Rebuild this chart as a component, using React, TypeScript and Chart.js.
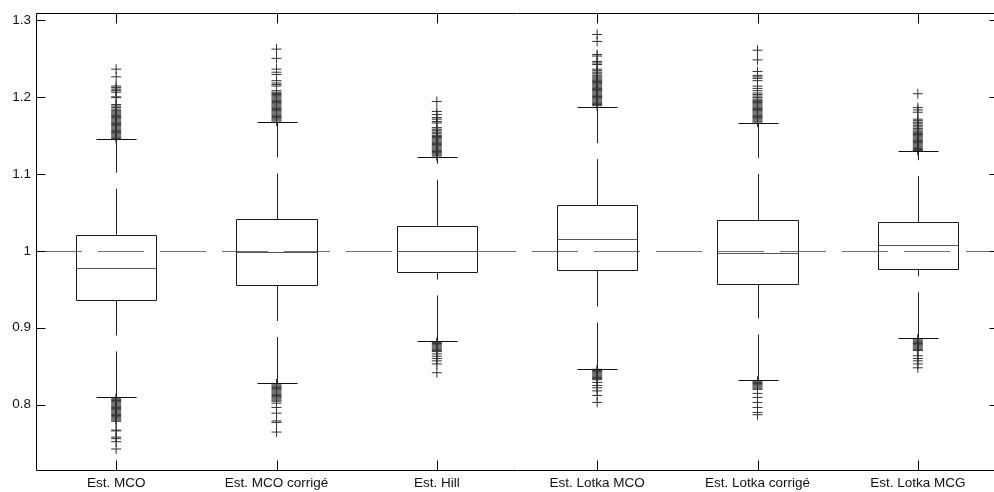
import React, { useEffect, useRef } from 'react';
import { Chart, registerables } from 'chart.js';

Chart.register(...registerables);

const CATEGORIES = ['Est. MCO', 'Est. MCO corrigé', 'Est. Hill', 'Est. Lotka MCO', 'Est. Lotka corrigé', 'Est. Lotka MCG'];

const Q1 = [0.936, 0.9555, 0.9719, 0.975, 0.9567, 0.9766];
const Q3 = [1.0208, 1.0407, 1.0325, 1.0593, 1.0402, 1.0372];
const MEDIAN = [0.978, 0.9987, 1.0, 1.0152, 0.997, 1.0074];
const WHISKER_LOW = [0.8095, 0.8282, 0.8822, 0.847, 0.8316, 0.8863];
const WHISKER_HIGH = [1.145, 1.1675, 1.122, 1.187, 1.1658, 1.129];

const OUT_MCO = [
  1.146, 1.1475, 1.149, 1.1505, 1.152, 1.1535, 1.155, 1.1565, 1.158, 1.1595, 1.161, 1.1625, 1.164,
  1.1655, 1.167, 1.1685, 1.17, 1.1715, 1.173, 1.1745, 1.176, 1.1775, 1.179, 1.1805, 1.182, 1.184,
  1.186, 1.188, 1.19, 1.199, 1.2, 1.206, 1.208, 1.21, 1.212, 1.214, 1.226, 1.236,
  0.8085, 0.807, 0.8055, 0.804, 0.8025, 0.801, 0.7995, 0.798, 0.7965, 0.795, 0.7935, 0.792, 0.7905,
  0.789, 0.7875, 0.786, 0.7845, 0.783, 0.7815, 0.78, 0.7785, 0.767, 0.766, 0.758, 0.756, 0.752, 0.7425,
];
const OUT_MCO_CORR = [
  1.1685, 1.17, 1.1715, 1.173, 1.1745, 1.176, 1.1775, 1.179, 1.1805, 1.182, 1.1835, 1.185, 1.1865,
  1.188, 1.1895, 1.191, 1.1925, 1.194, 1.1955, 1.197, 1.1985, 1.2, 1.2015, 1.203, 1.2045, 1.206,
  1.208, 1.214, 1.216, 1.218, 1.221, 1.229, 1.232, 1.236, 1.25, 1.262,
  0.827, 0.8255, 0.824, 0.8225, 0.821, 0.8195, 0.818, 0.8165, 0.815, 0.8135, 0.812, 0.8105, 0.809,
  0.8075, 0.806, 0.8045, 0.802, 0.7965, 0.789, 0.779, 0.777, 0.7645,
];
const OUT_HILL = [
  1.1232, 1.1245, 1.126, 1.1275, 1.129, 1.1305, 1.132, 1.1335, 1.135, 1.1365, 1.138, 1.1395, 1.141,
  1.1425, 1.144, 1.1455, 1.147, 1.1485, 1.15, 1.152, 1.154, 1.156, 1.158, 1.16, 1.166, 1.168, 1.171,
  1.173, 1.177, 1.181, 1.194,
  0.881, 0.8795, 0.878, 0.8765, 0.875, 0.8735, 0.872, 0.8705, 0.869, 0.866, 0.863, 0.86, 0.857,
  0.853, 0.8416,
];
const OUT_LOTKA_MCO = [
  1.1885, 1.19, 1.1915, 1.193, 1.1945, 1.196, 1.1975, 1.199, 1.2005, 1.202, 1.2035, 1.205, 1.2065,
  1.208, 1.2095, 1.211, 1.2125, 1.214, 1.2155, 1.217, 1.2185, 1.22, 1.2215, 1.223, 1.2245, 1.226,
  1.228, 1.23, 1.232, 1.234, 1.236, 1.242, 1.244, 1.246, 1.253, 1.255, 1.272, 1.281,
  0.846, 0.8445, 0.843, 0.8415, 0.84, 0.8385, 0.837, 0.8355, 0.834, 0.8325, 0.829, 0.825, 0.822,
  0.818, 0.812, 0.803,
];
const OUT_LOTKA_CORR = [
  1.1672, 1.1685, 1.17, 1.1715, 1.173, 1.1745, 1.176, 1.1775, 1.179, 1.1805, 1.182, 1.1835, 1.185,
  1.1865, 1.188, 1.1895, 1.191, 1.1925, 1.194, 1.1955, 1.197, 1.199, 1.201, 1.203, 1.205, 1.208,
  1.211, 1.214, 1.221, 1.224, 1.226, 1.228, 1.233, 1.248, 1.2606,
  0.8305, 0.829, 0.8275, 0.826, 0.8245, 0.823, 0.8215, 0.82, 0.8147, 0.8095, 0.803, 0.7965, 0.79, 0.787,
];
const OUT_LOTKA_MCG = [
  1.1302, 1.1315, 1.133, 1.1345, 1.136, 1.1375, 1.139, 1.1405, 1.142, 1.1435, 1.145, 1.1465, 1.148,
  1.1495, 1.151, 1.1525, 1.154, 1.1555, 1.157, 1.159, 1.161, 1.163, 1.165, 1.167, 1.169, 1.171,
  1.18, 1.183, 1.186, 1.204,
  0.8855, 0.884, 0.8825, 0.881, 0.8795, 0.878, 0.8765, 0.875, 0.8735, 0.872, 0.8705, 0.8636, 0.86,
  0.857, 0.853, 0.848,
];
const OUTLIERS = [OUT_MCO, OUT_MCO_CORR, OUT_HILL, OUT_LOTKA_MCO, OUT_LOTKA_CORR, OUT_LOTKA_MCG];

const Y_MIN = 0.7152;
const Y_MAX = 1.3088;
const Y_TICKS = [0.8, 0.9, 1.0, 1.1, 1.2, 1.3];
const Y_TICK_LABELS = ['0.8', '0.9', '1', '1.1', '1.2', '1.3'];
const REFERENCE = 1;

const FONT = '"Liberation Sans", Arial, Helvetica, sans-serif';

const crisp = (v: number) => Math.round(v) + 0.5;

const boxPlotPlugin = {
  id: 'matlabBoxplot',
  beforeDatasetsDraw(chart: any) {
    const { ctx, chartArea, scales } = chart;
    const y = crisp(scales.y.getPixelForValue(REFERENCE));
    ctx.save();
    ctx.strokeStyle = '#6e6e6e';
    ctx.lineWidth = 1;
    ctx.setLineDash([46, 16]);
    ctx.beginPath();
    ctx.moveTo(chartArea.left, y);
    ctx.lineTo(chartArea.right, y);
    ctx.stroke();
    ctx.restore();
  },
  afterDatasetsDraw(chart: any) {
    const { ctx, chartArea, scales } = chart;
    const xs = scales.x;
    const ys = scales.y;
    const meta = chart.getDatasetMeta(0);
    ctx.save();
    ctx.lineWidth = 1;
    CATEGORIES.forEach((_, i) => {
      const bar = meta.data[i];
      const cx = crisp(bar.x);
      const half = bar.width / 2;
      const capHalf = half / 2;
      const yLow = ys.getPixelForValue(WHISKER_LOW[i]);
      const yHigh = ys.getPixelForValue(WHISKER_HIGH[i]);
      const yQ1 = ys.getPixelForValue(Q1[i]);
      const yQ3 = ys.getPixelForValue(Q3[i]);
      const yMed = crisp(ys.getPixelForValue(MEDIAN[i]));
      // box outline
      const bl = crisp(bar.x - half);
      const br = crisp(bar.x + half);
      const bt = crisp(Math.min(bar.y, bar.base));
      const bb = crisp(Math.max(bar.y, bar.base));
      ctx.strokeStyle = '#1a1a1a';
      ctx.setLineDash([]);
      ctx.beginPath();
      ctx.rect(bl, bt, br - bl, bb - bt);
      ctx.stroke();
      // whiskers (dashed)
      ctx.strokeStyle = '#222';
      ctx.setLineDash([46, 16]);
      ctx.beginPath();
      ctx.moveTo(cx, yLow);
      ctx.lineTo(cx, yQ1);
      ctx.stroke();
      ctx.beginPath();
      ctx.moveTo(cx, yQ3);
      ctx.lineTo(cx, yHigh);
      ctx.stroke();
      ctx.setLineDash([]);
      // caps
      ctx.strokeStyle = '#111';
      ctx.beginPath();
      ctx.moveTo(cx - capHalf, crisp(yLow));
      ctx.lineTo(cx + capHalf, crisp(yLow));
      ctx.moveTo(cx - capHalf, crisp(yHigh));
      ctx.lineTo(cx + capHalf, crisp(yHigh));
      ctx.stroke();
      // median
      ctx.strokeStyle = '#555';
      ctx.beginPath();
      ctx.moveTo(bl, yMed);
      ctx.lineTo(br, yMed);
      ctx.stroke();
    });
    // frame
    const L = crisp(chartArea.left);
    const R = crisp(chartArea.right);
    const T = crisp(chartArea.top);
    const B = crisp(chartArea.bottom);
    ctx.strokeStyle = '#000';
    ctx.beginPath();
    ctx.rect(L, T, R - L, B - T);
    ctx.stroke();
    // ticks
    ctx.beginPath();
    Y_TICKS.forEach((v) => {
      const ty = crisp(ys.getPixelForValue(v));
      ctx.moveTo(L, ty);
      ctx.lineTo(L + 9, ty);
      ctx.moveTo(R, ty);
      ctx.lineTo(R - 9, ty);
    });
    CATEGORIES.forEach((_, i) => {
      const tx = crisp(xs.getPixelForValue(i));
      ctx.moveTo(tx, B);
      ctx.lineTo(tx, B - 10);
      ctx.moveTo(tx, T);
      ctx.lineTo(tx, T + 10);
    });
    ctx.stroke();
    ctx.restore();
  },
};

export default function App() {
  const canvasRef = useRef<HTMLCanvasElement | null>(null);

  useEffect(() => {
    const canvas = canvasRef.current;
    if (!canvas) return;
    const datasets: any[] = [
      {
        type: 'bar',
        data: Q1.map((q, i) => [q, Q3[i]]),
        backgroundColor: 'rgba(0,0,0,0)',
        borderColor: 'rgba(0,0,0,0)',
        borderWidth: 0,
        borderSkipped: false,
        barPercentage: 0.5,
        categoryPercentage: 1,
        order: 2,
      },
      ...OUTLIERS.map((vals, i) => ({
        type: 'scatter',
        data: vals.map((v) => ({ x: CATEGORIES[i], y: v })),
        pointStyle: 'cross',
        pointRadius: 5,
        pointBorderWidth: 1,
        pointBorderColor: '#333',
        pointBackgroundColor: 'rgba(0,0,0,0)',
        showLine: false,
        order: 1,
      })),
    ];
    const chart = new Chart(canvas, {
      type: 'bar',
      data: { labels: CATEGORIES, datasets },
      options: {
        animation: false,
        responsive: false,
        devicePixelRatio: 1,
        events: [],
        layout: { padding: { top: 12, right: 4, bottom: 0, left: 0 } },
        plugins: { legend: { display: false }, tooltip: { enabled: false } },
        scales: {
          x: {
            type: 'category',
            offset: true,
            grid: { display: false, drawTicks: false },
            border: { display: false },
            ticks: {
              autoSkip: false,
              maxRotation: 0,
              minRotation: 0,
              padding: 5,
              color: '#111',
              font: { family: FONT, size: 13.5 },
            },
            afterFit: (s: any) => {
              s.height = 22;
            },
          },
          y: {
            type: 'linear',
            min: Y_MIN,
            max: Y_MAX,
            grid: { display: false, drawTicks: false },
            border: { display: false },
            afterBuildTicks: (s: any) => {
              s.ticks = Y_TICKS.map((v) => ({ value: v }));
            },
            ticks: {
              padding: 5,
              color: '#111',
              font: { family: FONT, size: 13.5 },
              callback: (v: any) => {
                const idx = Y_TICKS.findIndex((t) => Math.abs(t - Number(v)) < 1e-9);
                return idx >= 0 ? Y_TICK_LABELS[idx] : '';
              },
            },
            afterFit: (s: any) => {
              s.width = 36;
            },
          },
        },
      } as any,
      plugins: [boxPlotPlugin],
    });
    return () => chart.destroy();
  }, []);

  return (
    <div
      style={{
        position: 'fixed',
        left: 0,
        top: 0,
        width: 994,
        height: 492,
        overflow: 'hidden',
        background: '#fff',
      }}
    >
      <canvas ref={canvasRef} width={1004} height={492} style={{ width: 1004, height: 492, display: 'block' }} />
    </div>
  );
}
